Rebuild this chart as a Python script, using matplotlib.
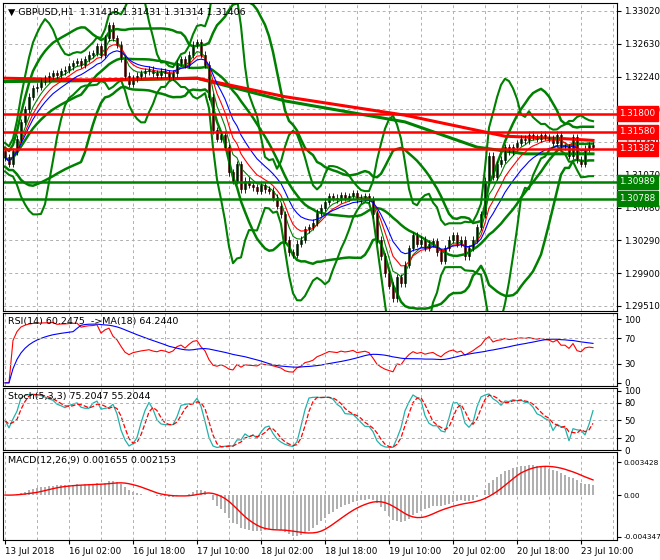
import numpy as np, pandas as pd
import matplotlib
matplotlib.use("Agg")
import matplotlib.pyplot as plt

closes = [1.3128,1.3120,1.3135,1.3150,1.3170,1.3185,1.3200,1.3210,1.3212,1.3218,1.3222,1.3225,1.3228,1.3226,1.3230,1.3232,
 1.3236,1.3240,1.3242,1.3238,1.3245,1.3250,1.3252,1.3260,1.3250,1.3270,1.3285,1.3270,1.3262,1.3245,1.3225,1.3215,
 1.3222,1.3225,1.3228,1.3230,1.3232,1.3228,1.3226,1.3230,1.3228,1.3224,1.3228,1.3240,1.3245,1.3238,1.3250,1.3262,
 1.3265,1.3250,1.3238,1.3200,1.3160,1.3150,1.3155,1.3140,1.3110,1.3100,1.3120,1.3090,1.3100,1.3095,1.3092,1.3088,
 1.3095,1.3090,1.3088,1.3080,1.3070,1.3060,1.3030,1.3015,1.3012,1.3025,1.3030,1.3042,1.3045,1.3050,1.3062,1.3068,
 1.3075,1.3082,1.3080,1.3078,1.3083,1.3080,1.3082,1.3085,1.3078,1.3080,1.3082,1.3078,1.3060,1.3030,1.3010,1.2990,
 1.2975,1.2960,1.2985,1.2978,1.3000,1.3020,1.3035,1.3025,1.3030,1.3020,1.3025,1.3028,1.3015,1.3005,1.3020,1.3030,
 1.3035,1.3025,1.3030,1.3010,1.3020,1.3030,1.3045,1.3060,1.3100,1.3130,1.3105,1.3120,1.3125,1.3140,1.3135,1.3140,
 1.3145,1.3150,1.3148,1.3155,1.3152,1.3150,1.3155,1.3152,1.3150,1.3145,1.3155,1.3140,1.3140,1.3130,1.3152,1.3125,
 1.3120,1.3138,1.3142,1.3140]
open0 = 1.3135
long_red_x = [0, 20, 48, 70, 100, 125, 140, 147]
long_red_y = [1.3222, 1.3220, 1.3222, 1.3200, 1.3178, 1.3153, 1.3150, 1.3148]
long_grn_x = [0, 20, 48, 70, 100, 118, 130, 147]
long_grn_y = [1.3218, 1.3219, 1.3222, 1.3195, 1.3170, 1.3140, 1.3132, 1.3132]
red_levels = [1.3180, 1.3158, 1.31382]
green_levels = [1.30989, 1.30788]
price_ticks = [1.33020,1.32630,1.32240,1.31850,1.31460,1.31070,1.30680,1.30290,1.29900,1.29510]
time_labels = ["13 Jul 2018","16 Jul 02:00","16 Jul 18:00","17 Jul 10:00","18 Jul 02:00",
               "18 Jul 18:00","19 Jul 10:00","20 Jul 02:00","20 Jul 18:00","23 Jul 10:00"]
title = "GBPUSD,H1  1.31418 1.31431 1.31314 1.31406"

c = pd.Series(closes); n = len(c); x = np.arange(n)
o = pd.Series([open0] + closes[:-1])
GRN = "#008000"
FS = 6.3
fig = plt.figure(figsize=(6.6,5.6), dpi=100)
W = 614/660; L = 3/660
def ax_at(top, bot):
    return fig.add_axes([L, 1-bot/560, W, (bot-top)/560])
axm = ax_at(3, 311); axr = ax_at(313, 386); axs = ax_at(388, 450); axd = ax_at(452, 540)
for a in (axm, axr, axs, axd):
    a.set_xlim(-0.5, 153.0)
    a.yaxis.tick_right()
    a.tick_params(labelsize=FS, length=3, pad=2)
    for xv in range(0, 154, 8):
        a.axvline(xv, color="#b0b0b0", ls=(0,(3,3)), lw=0.7, zorder=0)
    a.set_xticks([])

# main
for yv in price_ticks:
    axm.axhline(yv, color="#b0b0b0", ls=(0,(3,3)), lw=0.7, zorder=0)
std20 = c.rolling(20, min_periods=2).std().bfill(); m20 = c.rolling(20, min_periods=1).mean()
std10 = c.rolling(10, min_periods=2).std().bfill(); m10 = c.rolling(10, min_periods=1).mean()
axm.plot(x, m20+2*std20, color=GRN, lw=1.8); axm.plot(x, m20-2*std20, color=GRN, lw=1.8); axm.plot(x, m20, color=GRN, lw=1.8)
axm.plot(x, m10+3*std10, color=GRN, lw=1.5); axm.plot(x, m10-3*std10, color=GRN, lw=1.5)
axm.plot(long_grn_x, long_grn_y, color=GRN, lw=2.2)
axm.plot(long_red_x, long_red_y, color="red", lw=2.2)
axm.plot(x, c.ewm(span=5).mean(), color=GRN, lw=0.8)
axm.plot(x, c.ewm(span=8).mean(), color="red", lw=0.8)
axm.plot(x, c.ewm(span=13).mean(), color="blue", lw=0.8)
for i in range(n):
    lo, hi = min(o[i], c[i]), max(o[i], c[i])
    axm.vlines(i, lo-0.0004, hi+0.0004, color="black", lw=0.6)
    axm.bar(i, max(hi-lo, 0.00003), bottom=lo, width=0.6, color="red" if c[i] < o[i] else GRN, edgecolor="black", lw=0.4)
for lv in red_levels:
    axm.axhline(lv, color="red", lw=1.8)
for lv in green_levels:
    axm.axhline(lv, color=GRN, lw=1.8)
axm.set_ylim(1.29450, 1.33115)
axm.set_yticks(price_ticks); axm.set_yticklabels([f"{v:.5f}" for v in price_ticks])
for lv, col in [(l, "red") for l in red_levels] + [(l, GRN) for l in green_levels]:
    axm.text(1.004, lv, f"{lv:.5f}", transform=axm.get_yaxis_transform(), color="white", fontsize=FS,
             va="center", ha="left", zorder=10, clip_on=False,
             bbox=dict(boxstyle="square,pad=0.3", fc=col, ec=col))
axm.text(0.008, 0.985, "▼ " + title, transform=axm.transAxes, fontsize=FS+0.5, va="top")

# RSI
d = c.diff().fillna(0)
up = d.clip(lower=0).ewm(alpha=1/14).mean(); dn = (-d.clip(upper=0)).ewm(alpha=1/14).mean()
rsi = 100 - 100/(1+up/(dn+1e-9))
axr.plot(x, rsi, color="red", lw=0.8); axr.plot(x, rsi.rolling(18, min_periods=1).mean(), color="blue", lw=0.8)
axr.set_ylim(-5, 110); axr.set_yticks([0,30,70,100])
for yv in (30,70): axr.axhline(yv, color="#b0b0b0", ls=(0,(3,3)), lw=0.7)
axr.text(0.008, 0.95, "RSI(14) 60.2475  ->MA(18) 64.2440", transform=axr.transAxes, fontsize=FS+0.5, va="top")

# Stoch
hh = c.rolling(5, min_periods=1).max()+0.0004; ll = c.rolling(5, min_periods=1).min()-0.0004
k = (100*(c-ll)/(hh-ll)).rolling(3, min_periods=1).mean(); dd = k.rolling(3, min_periods=1).mean()
axs.plot(x, k, color="#20b2aa", lw=0.9); axs.plot(x, dd, color="red", lw=0.9, ls="--")
axs.set_ylim(0, 105); axs.set_yticks([0,20,50,80,100])
for yv in (20,50,80): axs.axhline(yv, color="#b0b0b0", ls=(0,(3,3)), lw=0.7)
axs.text(0.008, 0.93, "Stoch(5,3,3) 75.2047 55.2044", transform=axs.transAxes, fontsize=FS+0.5, va="top")

# MACD
macd = c.ewm(span=12).mean()-c.ewm(span=26).mean(); sig = macd.rolling(9, min_periods=1).mean()
axd.bar(x, macd, width=0.3, color="#b0b0b0")
axd.plot(x, sig, color="red", lw=1)
axd.set_ylim(-0.0047, 0.0045); axd.set_yticks([0.003428, 0, -0.004347])
axd.set_yticklabels(["0.003428","0.00","-0.004347"], fontsize=5.3)
axd.text(0.008, 0.95, "MACD(12,26,9) 0.001655 0.002153", transform=axd.transAxes, fontsize=FS+0.5, va="top")
axd.set_xticks(range(0, 145, 16)); axd.set_xticklabels(time_labels, fontsize=FS, ha="left")
axd.tick_params(axis="x", length=3)
fig.savefig("out.png", dpi=100)
